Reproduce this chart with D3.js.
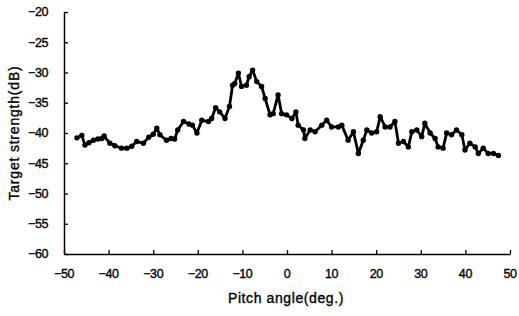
<!DOCTYPE html>
<html>
<head>
<meta charset="utf-8">
<script src="https://cdn.jsdelivr.net/npm/d3@7"></script>
<style>
  html, body { margin: 0; padding: 0; background: #fff; }
  svg { display: block; }
  text { font-family: "Liberation Sans", Arial, sans-serif; fill: #000; stroke: #000; stroke-width: 0.35px; }
</style>
</head>
<body>
<div id="chart"></div>
<script>
// pitch angle (deg.) of each sample
const pitchAngles = [
  -47.1, -46.0, -45.3, -44.4, -43.4, -42.4, -41.5, -41.0, -39.7, -38.6,
  -37.1, -35.9, -34.8, -33.7, -32.2, -31.0, -30.0, -29.2, -28.5, -27.0,
  -26.0, -25.2, -24.5, -23.2, -22.0, -21.2, -20.2, -19.1, -17.6, -16.9,
  -16.0, -15.1, -13.9, -12.9, -12.2, -11.7, -10.9, -10.2, -9.1, -8.5,
  -7.7, -6.8, -5.7, -4.9, -3.8, -3.1, -2.0, -1.2, -0.1, 1.1,
  2.0, 2.5, 3.7, 4.0, 5.2, 6.3, 7.8, 8.9, 10.0, 11.5,
  12.3, 13.7, 14.9, 16.0, 17.1, 17.9, 19.0, 20.1, 20.9, 22.0,
  23.1, 24.2, 25.0, 26.1, 27.2, 28.0, 29.1, 30.2, 30.9, 32.1,
  33.2, 33.9, 35.0, 35.8, 36.9, 38.0, 39.2, 39.9, 41.0, 42.2,
  42.9, 44.0, 45.1, 46.3, 47.4
];
// target strength (dB)
const targetStrength = [
  -40.8, -40.4, -42.0, -41.6, -41.2, -41.0, -40.9, -40.5, -41.7, -42.1,
  -42.5, -42.5, -42.2, -41.4, -41.7, -40.7, -40.2, -39.2, -40.3, -41.2,
  -40.9, -41.0, -39.5, -38.1, -38.5, -38.7, -40.0, -37.9, -38.1, -37.6,
  -35.8, -36.5, -37.6, -35.6, -32.1, -31.8, -30.1, -32.3, -32.1, -30.7,
  -29.6, -31.5, -32.3, -34.3, -37.0, -36.8, -33.7, -36.8, -37.0, -37.6,
  -36.5, -38.7, -39.5, -40.9, -39.5, -39.8, -38.7, -37.9, -39.0, -39.0,
  -38.7, -41.2, -39.8, -43.4, -41.2, -39.5, -40.0, -39.8, -37.3, -39.0,
  -39.0, -38.1, -41.7, -41.4, -42.3, -39.8, -39.5, -40.6, -38.4, -40.0,
  -40.9, -42.3, -42.5, -40.0, -40.3, -39.5, -40.3, -42.8, -41.7, -42.3,
  -43.4, -42.5, -43.4, -43.4, -43.7
];
const xTicks = [-50, -40, -30, -20, -10, 0, 10, 20, 30, 40, 50];
const yTicks = [-20, -25, -30, -35, -40, -45, -50, -55, -60];

const width = 519, height = 316;
const margin = { left: 64, right: 9, top: 12, bottom: 62 };

const svg = d3.select("#chart").append("svg")
  .attr("width", width)
  .attr("height", height);

const x = d3.scaleLinear().domain([-50, 50]).range([margin.left, width - margin.right]);
const y = d3.scaleLinear().domain([-60, -20]).range([height - margin.bottom, margin.top]);

const fmt = d => d < 0 ? "\u2212" + Math.abs(d) : String(d);

// x axis, ticks pointing inward
const gx = svg.append("g")
  .attr("transform", `translate(0,${y(-60)})`)
  .call(d3.axisTop(x).tickValues(xTicks).tickSize(4).tickSizeOuter(0).tickFormat(""));
gx.select(".domain").attr("stroke-width", 1.5);
gx.selectAll(".tick line").attr("stroke-width", 1.3);

svg.append("g").selectAll("text")
  .data(xTicks)
  .enter()
  .append("text")
  .attr("x", d => x(d))
  .attr("y", y(-60) + 24)
  .attr("text-anchor", "middle")
  .attr("font-size", "12.5px")
  .attr("letter-spacing", "-0.4px")
  .text(fmt);

// y axis, ticks pointing inward
const gy = svg.append("g")
  .attr("transform", `translate(${x(-50)},0)`)
  .call(d3.axisRight(y).tickValues(yTicks).tickSize(4).tickSizeOuter(0).tickFormat(""));
gy.select(".domain").attr("stroke-width", 1.5);
gy.selectAll(".tick line").attr("stroke-width", 1.3);

svg.append("g").selectAll("text")
  .data(yTicks)
  .enter()
  .append("text")
  .attr("x", x(-50) - 16)
  .attr("y", d => y(d))
  .attr("dy", "0.35em")
  .attr("text-anchor", "end")
  .attr("font-size", "12.5px")
  .attr("letter-spacing", "-0.4px")
  .text(fmt);

// axis titles
svg.append("text")
  .attr("x", 286)
  .attr("y", 303)
  .attr("text-anchor", "middle")
  .attr("font-size", "14px")
  .attr("letter-spacing", "0.6px")
  .text("Pitch angle(deg.)");

svg.append("text")
  .attr("transform", `translate(19,${(y(-20) + y(-60)) / 2}) rotate(-90)`)
  .attr("text-anchor", "middle")
  .attr("font-size", "14px")
  .attr("letter-spacing", "0.8px")
  .text("Target strength(dB)");

// data line + markers
const pts = pitchAngles.map((a, i) => ({ a: a, ts: targetStrength[i] }));

svg.append("path")
  .datum(pts)
  .attr("fill", "none")
  .attr("stroke", "#000")
  .attr("stroke-width", 2.8)
  .attr("stroke-linejoin", "round")
  .attr("d", d3.line().x(d => x(d.a)).y(d => y(d.ts)));

svg.append("g").selectAll("circle")
  .data(pts)
  .enter()
  .append("circle")
  .attr("cx", d => x(d.a))
  .attr("cy", d => y(d.ts))
  .attr("r", 2.7)
  .attr("fill", "#000");
</script>
</body>
</html>
